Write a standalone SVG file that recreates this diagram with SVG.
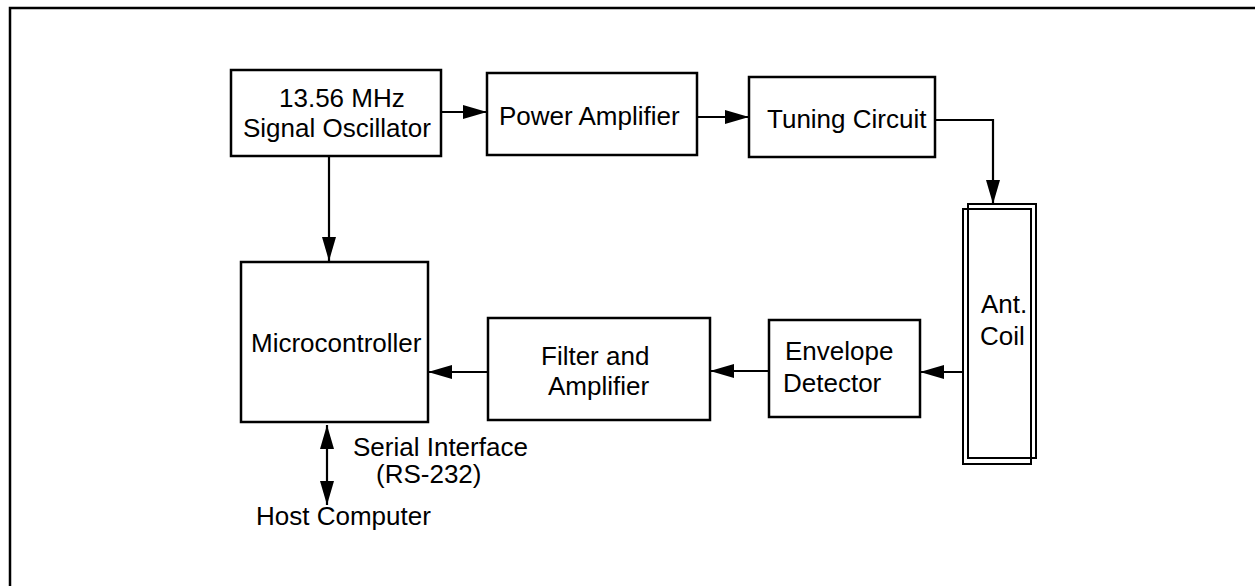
<svg xmlns="http://www.w3.org/2000/svg" width="1255" height="586" viewBox="0 0 1255 586">
<style>
.box{fill:#fff;stroke:#000;stroke-width:2.5}
.coil{fill:none;stroke:#000;stroke-width:2}
.lbl{font-family:"Liberation Sans",Arial,sans-serif;font-size:26px;fill:#000}
.wire{fill:none;stroke:#000;stroke-width:2.2}
</style>
<defs>
<marker id="ah" viewBox="0 0 24 14" refX="24" refY="7" markerWidth="24" markerHeight="14" markerUnits="userSpaceOnUse" orient="auto-start-reverse">
<path d="M0,0 L24,7 L0,14 Z" fill="#000"/>
</marker>
</defs>
<path d="M10,586 V8 H1255" fill="none" stroke="#000" stroke-width="2.5"/>
<g id="connectors">
<path class="wire" d="M441,112 H487" marker-end="url(#ah)"/>
<path class="wire" d="M697,117 H749" marker-end="url(#ah)"/>
<path class="wire" d="M935,120 H993 V204" marker-end="url(#ah)"/>
<path class="wire" d="M329,156 V261" marker-end="url(#ah)"/>
<path class="wire" d="M963,372 H920" marker-end="url(#ah)"/>
<path class="wire" d="M769,371 H710" marker-end="url(#ah)"/>
<path class="wire" d="M488,372 H428" marker-end="url(#ah)"/>
<path class="wire" d="M327,425 V505" marker-start="url(#ah)" marker-end="url(#ah)"/>
</g>
<g id="oscillator">
<rect class="box" x="231" y="70" width="210" height="86"/>
<text class="lbl" x="279" y="107">13.56 MHz</text>
<text class="lbl" x="243" y="137">Signal Oscillator</text>
</g>
<g id="power-amplifier">
<rect class="box" x="487" y="73" width="210" height="82"/>
<text class="lbl" x="499" y="125">Power Amplifier</text>
</g>
<g id="tuning-circuit">
<rect class="box" x="749" y="77" width="186" height="80"/>
<text class="lbl" x="767" y="128">Tuning Circuit</text>
</g>
<g id="antenna-coil">
<rect class="coil" x="968" y="204" width="68" height="254"/>
<rect class="coil" x="963" y="209" width="68" height="255"/>
<text class="lbl" x="981" y="313">Ant.</text>
<text class="lbl" x="980" y="345">Coil</text>
</g>
<g id="envelope-detector">
<rect class="box" x="769" y="320" width="151" height="97"/>
<text class="lbl" x="785" y="360">Envelope</text>
<text class="lbl" x="783" y="392">Detector</text>
</g>
<g id="filter-amplifier">
<rect class="box" x="488" y="318" width="222" height="102"/>
<text class="lbl" x="541" y="365">Filter and</text>
<text class="lbl" x="548" y="395">Amplifier</text>
</g>
<g id="microcontroller">
<rect class="box" x="241" y="262" width="187" height="160"/>
<text class="lbl" x="251" y="352">Microcontroller</text>
</g>
<g id="host">
<text class="lbl" x="353" y="456">Serial Interface</text>
<text class="lbl" x="376" y="483">(RS-232)</text>
<text class="lbl" x="256" y="525">Host Computer</text>
</g>
</svg>
